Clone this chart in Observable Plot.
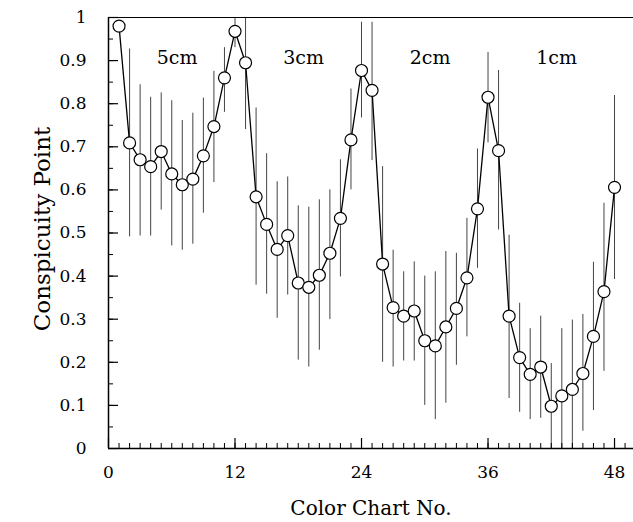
<!DOCTYPE html>
<html>
<head>
<meta charset="utf-8">
<script src="https://cdn.jsdelivr.net/npm/d3@7"></script>
<script src="https://cdn.jsdelivr.net/npm/@observablehq/plot@0.6"></script>
<style>
  html, body { margin: 0; padding: 0; background: #fff; }
  #chart { width: 633px; height: 522px; }
</style>
</head>
<body>
<div id="chart"></div>
<script>
// Color chart numbers
const chartNo = [1,2,3,4,5,6,7,8,9,10,11,12,13,14,15,16,17,18,19,20,21,22,23,24,
                 25,26,27,28,29,30,31,32,33,34,35,36,37,38,39,40,41,42,43,44,45,46,47,48];
// Mean conspicuity point
const meanPoint = [0.980,0.709,0.670,0.654,0.689,0.637,0.612,0.625,0.679,0.747,0.860,0.968,
                   0.895,0.584,0.520,0.462,0.494,0.384,0.374,0.402,0.453,0.534,0.716,0.877,
                   0.831,0.428,0.327,0.307,0.319,0.250,0.238,0.282,0.325,0.396,0.556,0.815,
                   0.691,0.307,0.211,0.172,0.189,0.098,0.122,0.137,0.174,0.260,0.364,0.606];
// Error bar lower ends
const lowPoint = [0.980,0.491,0.493,0.493,0.553,0.470,0.460,0.474,0.546,0.617,0.780,0.930,
                  0.740,0.379,0.358,0.302,0.356,0.205,0.189,0.228,0.299,0.398,0.600,0.767,
                  0.668,0.200,0.189,0.203,0.203,0.100,0.067,0.105,0.193,0.259,0.418,0.709,
                  0.507,0.116,0.084,0.067,0.070,0.000,0.000,0.000,0.040,0.088,0.179,0.392];
// Error bar upper ends
const highPoint = [0.980,0.927,0.844,0.815,0.825,0.807,0.761,0.778,0.813,0.875,0.930,1.000,
                   1.000,0.790,0.684,0.619,0.630,0.563,0.560,0.577,0.600,0.670,0.834,0.989,
                   0.989,0.654,0.460,0.410,0.433,0.400,0.410,0.457,0.453,0.534,0.695,0.919,
                   0.877,0.495,0.337,0.278,0.307,0.197,0.278,0.298,0.311,0.432,0.569,0.819];
// Size groups (12 charts each)
const sizeLabels = ["5cm", "3cm", "2cm", "1cm"];
const groupSize = 12;
// Tick labels
const xTickValues = [0, 12, 24, 36, 48];
const yTickValues = [0, 0.1, 0.2, 0.3, 0.4, 0.5, 0.6, 0.7, 0.8, 0.9, 1];

const data = chartNo.map((x, i) => ({x, y: meanPoint[i], lo: lowPoint[i], hi: highPoint[i]}));
const groups = sizeLabels.map((label, i) => ({label, center: groupSize * i + (groupSize + 1) / 2}));

const W = 633, H = 522;
const mL = 108, mR = 0, mT = 17, mB = 74;
const frameW = W - mL - mR, frameH = H - mT - mB;

const xMinor = d3.range(0, 50, 1);
const yMinor = d3.range(0, 1.0001, 0.05);

const font = "'DejaVu Serif', 'Liberation Serif', serif";

const chart = Plot.plot({
  width: W, height: H,
  marginLeft: mL, marginRight: mR, marginTop: mT, marginBottom: mB,
  x: {domain: [0, 49.8]},
  y: {domain: [0, 1]},
  style: {fontFamily: font, background: "#fff", color: "#000"},
  marks: [
    // error bars
    Plot.ruleX(data, {x: "x", y1: "lo", y2: "hi", stroke: "#444", strokeWidth: 1}),
    // connecting line
    Plot.line(data, {x: "x", y: "y", stroke: "#000", strokeWidth: 1.3}),
    // points
    Plot.dot(data, {x: "x", y: "y", r: 6, fill: "#fff", stroke: "#000", strokeWidth: 1.2}),
    // frame lines
    Plot.ruleX([0], {stroke: "#000", strokeWidth: 1.5}),
    Plot.ruleY([0], {stroke: "#000", strokeWidth: 1.5}),
    Plot.ruleY([1], {stroke: "#000", strokeWidth: 1.2}),
    // inward ticks
    Plot.tickX(xMinor, {x: d => d, insetTop: frameH - 5, stroke: "#000", strokeWidth: 1}),
    Plot.tickX(xTickValues, {x: d => d, insetTop: frameH - 10, stroke: "#000", strokeWidth: 1.2}),
    Plot.tickY(yMinor, {y: d => d, insetRight: frameW - 5, stroke: "#000", strokeWidth: 1}),
    Plot.tickY(yTickValues, {y: d => d, insetRight: frameW - 10, stroke: "#000", strokeWidth: 1.2}),
    // tick labels
    Plot.axisX(xTickValues, {tickSize: 0, tickPadding: 17, fontSize: 17, label: null, fill: "#000"}),
    Plot.axisY(yTickValues, {tickSize: 0, tickPadding: 22, fontSize: 17, label: null, fill: "#000",
      tickFormat: d => String(Math.round(d * 10) / 10)}),
    // axis titles
    Plot.text(["Conspicuity Point"], {text: d => d, frameAnchor: "left", textAnchor: "middle", lineAnchor: "middle",
      rotate: -90, dx: -66, dy: -4, fontSize: 23, fill: "#000"}),
    Plot.text(["Color Chart No."], {text: d => d, frameAnchor: "bottom", textAnchor: "middle", lineAnchor: "middle",
      dy: 60, fontSize: 20, fill: "#000"}),
    // size group labels
    Plot.text(groups, {x: "center", text: "label", frameAnchor: "top", dy: 33, fontSize: 19, fill: "#000"})
  ]
});

document.getElementById("chart").appendChild(chart);
</script>
</body>
</html>
